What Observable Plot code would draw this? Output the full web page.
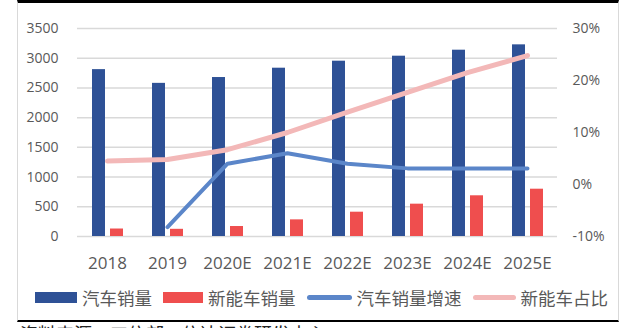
<!DOCTYPE html>
<html>
<head>
<meta charset="utf-8">
<script src="https://cdn.jsdelivr.net/npm/d3@7"></script>
<script src="https://cdn.jsdelivr.net/npm/@observablehq/plot@0.6"></script>
<style>
  html, body { margin: 0; padding: 0; background: #fff; width: 640px; height: 328px; overflow: hidden; }
  #wrap { position: relative; width: 640px; height: 328px; }
  #frame { position: absolute; left: 17px; top: 0px; width: 600px; height: 317px;
           border-left: 1px solid #d9d9d9; border-right: 1px solid #d9d9d9;
           border-top: 3px solid #000; border-bottom: 2px solid #000; box-sizing: content-box; }
  #chart { position: absolute; left: 0; top: 0; }
  #legend { position: absolute; left: 35px; top: 285px; display: flex; align-items: center;
            font-family: "Noto Sans CJK SC", sans-serif; font-size: 17.5px; color: #595959; }
  .item { display: flex; align-items: center; margin-right: 11px; }
  .sw { margin-right: 5px; }
  #caption { position: absolute; left: 20px; top: 320px; font-family: "Noto Sans CJK SC", sans-serif;
             font-size: 18px; color: #222; white-space: nowrap; }
</style>
</head>
<body>
<div id="wrap">
  <div id="frame"></div>
  <div id="chart"></div>
  <div id="legend"></div>
  <div id="caption"></div>
</div>
<script>
const years = ["2018", "2019", "2020E", "2021E", "2022E", "2023E", "2024E", "2025E"];
const carSales = [2808, 2577, 2675, 2832, 2950, 3034, 3135, 3225];
const nevSales = [126, 121, 168, 280, 409, 544, 685, 796];
const carGrowth = [null, -8.2, 4.0, 6.0, 4.0, 3.1, 3.1, 3.1];
const nevShare = [4.5, 4.8, 6.7, 10.0, 13.9, 17.7, 21.5, 24.8];
const leftTicks = [0, 500, 1000, 1500, 2000, 2500, 3000, 3500];
const rightTicks = [-10, 0, 10, 20, 30];
const seriesNames = ["汽车销量", "新能车销量", "汽车销量增速", "新能车占比"];
const captionText = "资料来源：工信部，信达证券研发中心";

const colors = { car: "#2E5196", nev: "#EF4E4E", growth: "#5B86C9", share: "#F3B8B8" };

// secondary (percent) axis mapped onto the primary scale
const pct = d3.scaleLinear().domain([-10, 30]).range([0, 3500]);

const rows = years.map((y, i) => ({ year: y, car: carSales[i], nev: nevSales[i], growth: carGrowth[i], share: nevShare[i] }));
const growthRows = rows.filter(d => d.growth != null);

const chart = Plot.plot({
  width: 640,
  height: 282,
  marginLeft: 77,
  marginRight: 83,
  marginTop: 28,
  marginBottom: 46,
  style: { fontFamily: "Open Sans, sans-serif", color: "#595959", background: "transparent", overflow: "visible" },
  x: { type: "band", domain: years, padding: 0, label: null },
  y: { domain: [0, 3500], label: null },
  marks: [
    Plot.ruleY(leftTicks, { stroke: "#d9d9d9", strokeWidth: 1.5 }),
    Plot.barY(rows, { x: "year", y: "car", fill: colors.car, insetLeft: 15, insetRight: 32 }),
    Plot.barY(rows, { x: "year", y: "nev", fill: colors.nev, insetLeft: 33, insetRight: 14 }),
    Plot.line(rows, { x: "year", y: d => pct(d.share), stroke: colors.share, strokeWidth: 5, strokeLinejoin: "round" }),
    Plot.line(growthRows, { x: "year", y: d => pct(d.growth), stroke: colors.growth, strokeWidth: 4, strokeLinejoin: "round" }),
    Plot.axisX({ tickSize: 0, tickPadding: 20, fontSize: 17, label: null }),
    Plot.axisY(leftTicks, { anchor: "left", tickSize: 0, tickPadding: 19, fontSize: 14, label: null, tickFormat: d => String(d) }),
    Plot.axisY(rightTicks.map(p => pct(p)), { anchor: "right", tickSize: 0, tickPadding: 15, fontSize: 14, label: null,
      tickFormat: v => Math.round(pct.invert(v)) + "%", textAnchor: "start" })
  ]
});
document.getElementById("chart").appendChild(chart);

// legend
const legend = document.getElementById("legend");
const swatches = [
  { type: "bar", color: colors.car, w: 42 },
  { type: "bar", color: colors.nev, w: 40 },
  { type: "line", color: colors.growth, w: 45 },
  { type: "line", color: colors.share, w: 43 }
];
seriesNames.forEach((name, i) => {
  const it = document.createElement("div");
  it.className = "item";
  const sw = document.createElement("div");
  sw.className = "sw";
  sw.style.width = swatches[i].w + "px";
  sw.style.height = swatches[i].type === "bar" ? "11px" : "5px";
  sw.style.borderRadius = swatches[i].type === "bar" ? "0" : "3px";
  sw.style.background = swatches[i].color;
  const tx = document.createElement("span");
  tx.textContent = name;
  it.appendChild(sw);
  it.appendChild(tx);
  legend.appendChild(it);
});
document.getElementById("caption").textContent = captionText;
</script>
</body>
</html>
